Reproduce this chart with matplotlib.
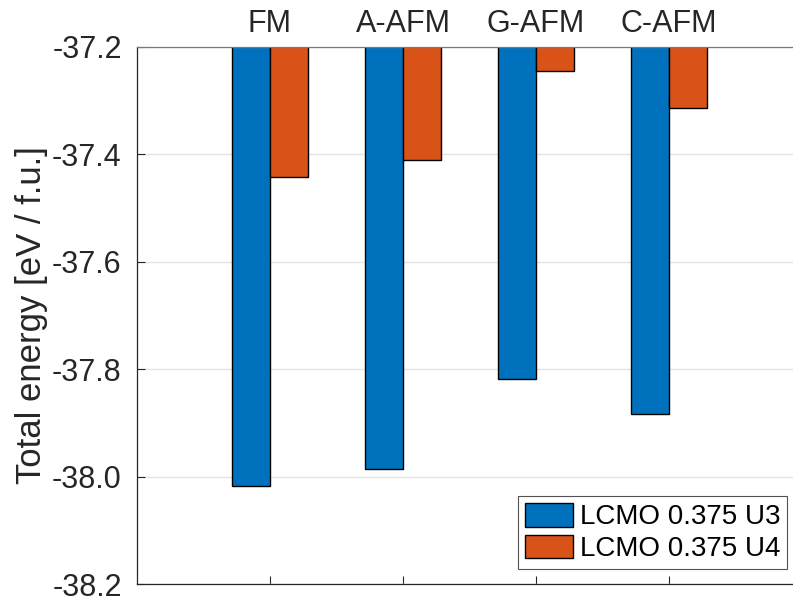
import numpy as np
import matplotlib
matplotlib.use('Agg')
import matplotlib.pyplot as plt

# magnetic orderings and their total energies (eV per formula unit)
ORDERINGS = ['FM', 'A-AFM', 'G-AFM', 'C-AFM']
ENERGY_U3 = [-38.018, -37.985, -37.819, -37.884]
ENERGY_U4 = [-37.442, -37.411, -37.245, -37.313]
SERIES_NAMES = ['LCMO 0.375 U3', 'LCMO 0.375 U4']

BLUE = '#0072BD'
ORANGE = '#D95319'
AXIS_GREY = '#262626'

plt.rcParams['font.family'] = ['Liberation Sans', 'DejaVu Sans']

fig = plt.figure(figsize=(7.93, 6.02), dpi=100)
# axes runs a little past the right edge of the figure
ax = fig.add_axes([137 / 793, 18 / 602, 665 / 793, 537 / 602])

x = np.arange(1, len(ORDERINGS) + 1)
width = 0.2857
# bars hang from the zero baseline, clipped by the axes limits
ax.bar(x - width / 2, ENERGY_U3, width, color=BLUE, edgecolor='black',
       linewidth=1.0, label=SERIES_NAMES[0], zorder=2)
ax.bar(x + width / 2, ENERGY_U4, width, color=ORANGE, edgecolor='black',
       linewidth=1.0, label=SERIES_NAMES[1], zorder=2)

ax.set_xlim(0, 5)
ax.set_ylim(-38.2, -37.2)
yticks = np.arange(-38.2, -37.19, 0.2)
ax.set_yticks(yticks)
ax.set_yticklabels(['%.1f' % v for v in yticks])
ax.set_xticks(x)
ax.set_xticklabels(ORDERINGS)

ax.tick_params(axis='x', direction='in', top=False, bottom=True,
               labeltop=True, labelbottom=False, length=6, width=0.8,
               color=AXIS_GREY, labelcolor=AXIS_GREY, labelsize=22, pad=6)
ax.tick_params(axis='y', direction='in', left=True, right=False, length=6,
               width=0.8, color=AXIS_GREY, labelcolor=AXIS_GREY,
               labelsize=22, pad=11)

ax.yaxis.grid(True, color='#e3e3e3', linewidth=1.0, zorder=0)
ax.set_axisbelow(True)
for side in ['left', 'bottom', 'top', 'right']:
    ax.spines[side].set_color(AXIS_GREY)
    ax.spines[side].set_linewidth(0.9)
ax.spines['top'].set_color('#7a7a7a')

ax.set_ylabel('Total energy [eV / f.u.]', fontsize=25, color=AXIS_GREY,
              labelpad=3)

leg = ax.legend(loc='lower right', bbox_to_anchor=(787 / 793, 33 / 602),
                bbox_transform=fig.transFigure, fontsize=20, frameon=True,
                fancybox=False, edgecolor=AXIS_GREY, handlelength=1.73,
                handleheight=0.94, handletextpad=0.22, borderpad=0.25,
                labelspacing=0.15, borderaxespad=0)
leg.get_frame().set_linewidth(0.8)

fig.savefig('out.png', dpi=100)
